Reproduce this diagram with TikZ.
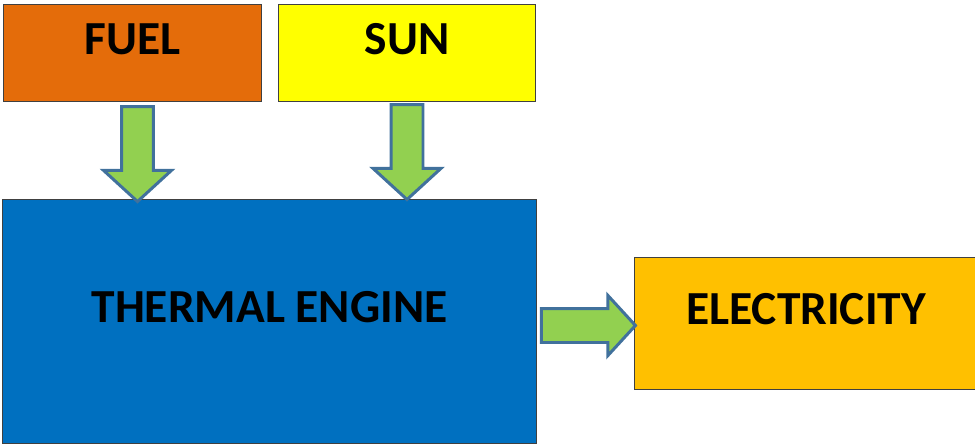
\documentclass[tikz,border=0pt]{standalone}
\usepackage{tikz}
\usepackage{fontspec}
\setmainfont{Carlito}
\usetikzlibrary{shapes.arrows,calc}

\definecolor{fuelorange}{HTML}{E46C0A}
\definecolor{sunyellow}{HTML}{FFFF00}
\definecolor{engineblue}{HTML}{0070C0}
\definecolor{elecgold}{HTML}{FFC000}
\definecolor{arrowgreen}{HTML}{92D050}
\definecolor{arrowline}{HTML}{41719C}

\tikzset{
  blockbox/.style={draw=black!75, line width=0.6pt, anchor=north west, inner sep=0pt,
    font=\fontsize{27}{31}\selectfont\bfseries, text height=0.6cm, text depth=0.55cm},
  flowarrow/.style={single arrow, draw=arrowline, fill=arrowgreen, line width=1.7pt,
    anchor=tail, minimum height=1.9cm, inner xsep=0pt, inner ysep=0.29cm,
    single arrow head extend=0.36cm, single arrow tip angle=95, single arrow head indent=0pt}
}

\begin{document}
\begin{tikzpicture}[x=0.02cm, y=-0.02cm]
\useasboundingbox (0,0) rectangle (975,444);
% boxes
\node[blockbox, fill=fuelorange, minimum width=5.16cm, minimum height=1.94cm] (fuel) at (3,4) {FUEL};
\node[blockbox, fill=sunyellow, minimum width=5.14cm, minimum height=1.94cm] (sun) at (278,4) {SUN};
\node[blockbox, fill=engineblue, minimum width=10.68cm, minimum height=4.88cm] (engine) at (2,199) {THERMAL ENGINE};
\node[blockbox, fill=elecgold, minimum width=6.86cm, minimum height=2.64cm] (elec) at (634,257) {ELECTRICITY};
% arrows
\node[flowarrow, rotate=-90] (fuelarrow) at ($(fuel.south)+(5,3)$) {};
\node[flowarrow, rotate=-90] (sunarrow) at ($(sun.south)+(0,1)$) {};
\node[flowarrow, minimum height=1.88cm, inner ysep=0.31cm, single arrow head extend=0.26cm] (elecarrow) at ($(engine.east)+(3,4)$) {};
\end{tikzpicture}
\end{document}
